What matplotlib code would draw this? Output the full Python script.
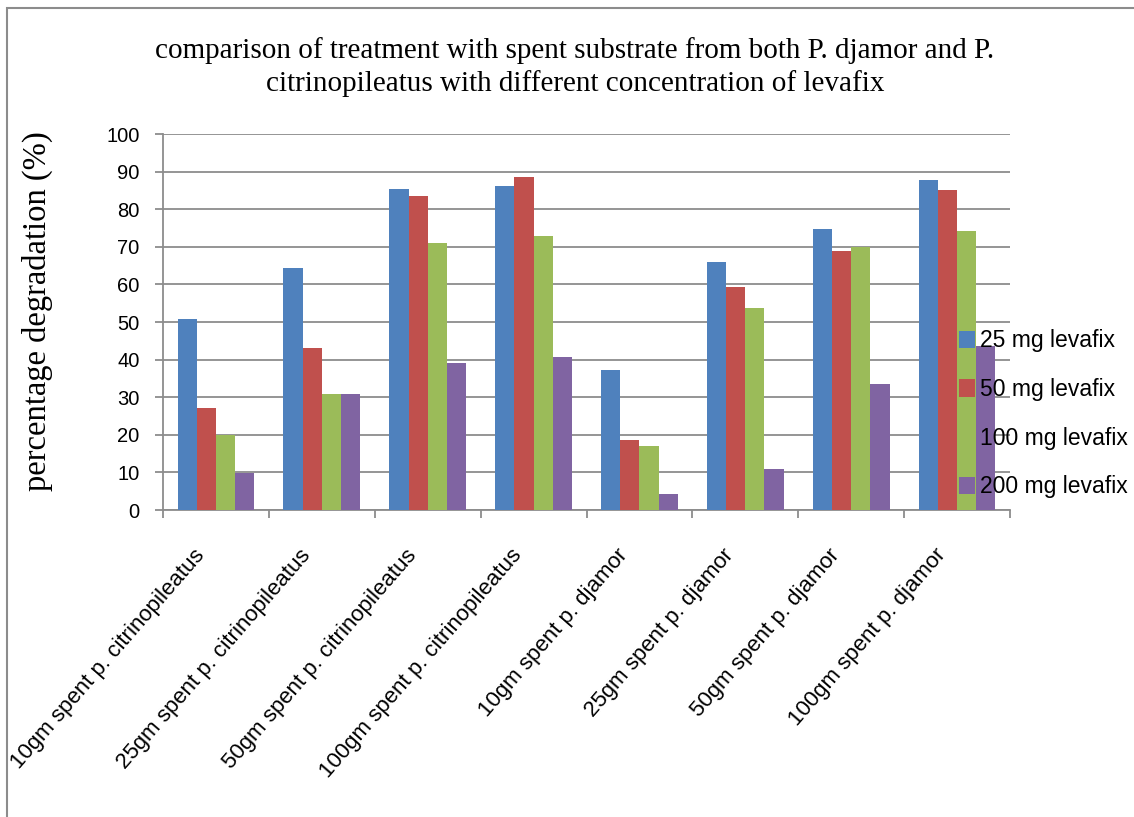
import numpy as np
import matplotlib
matplotlib.use("Agg")
import matplotlib.pyplot as plt
from matplotlib.patches import Rectangle

categories = ["10gm spent p. citrinopileatus", "25gm spent p. citrinopileatus",
              "50gm spent p. citrinopileatus", "100gm spent p. citrinopileatus",
              "10gm spent p. djamor", "25gm spent p. djamor",
              "50gm spent p. djamor", "100gm spent p. djamor"]
series_names = ["25 mg levafix", "50 mg levafix", "100 mg levafix", "200 mg levafix"]
mg25 = [50.9, 64.3, 85.4, 86.1, 37.3, 65.9, 74.8, 87.8]
mg50 = [27.1, 43.1, 83.4, 88.5, 18.5, 59.2, 68.8, 85.1]
mg100 = [20.0, 30.8, 71.0, 72.8, 16.9, 53.7, 69.9, 74.2]
mg200 = [9.9, 30.8, 39.0, 40.7, 4.2, 11.0, 33.5, 43.5]
colors = ["#4F81BD", "#C0504D", "#9BBB59", "#8064A2"]

sans = ["Liberation Sans", "DejaVu Sans"]
serif = ["Liberation Serif", "DejaVu Serif"]

fig = plt.figure(figsize=(11.34, 8.17), dpi=100)
ax = fig.add_axes([163/1134, 1-510/817, (1010-163)/1134, (510-134)/817])

x = np.arange(len(categories))
w = 0.181
for i, (vals, name) in enumerate(zip([mg25, mg50, mg100, mg200], series_names)):
    ax.bar(x + (i - 1.5)*w, vals, width=w, color=colors[i], label=name, zorder=3)

ax.set_xlim(-0.5, len(categories) - 0.5)
ax.set_ylim(0, 100)
ax.set_yticks(np.arange(0, 101, 10))
ax.yaxis.grid(True, color="#8c8c8c", lw=1.3, zorder=0)
# category boundaries get the tick marks, labels sit on (invisible) minor ticks
ax.set_xticks(np.arange(-0.5, len(categories), 1.0))
ax.set_xticklabels([])
ax.set_xticks(x - 0.14, minor=True)
ax.set_xticklabels(categories, minor=True, rotation=49, ha="right", va="center",
                   rotation_mode="anchor", fontsize=16, family=sans)
ax.tick_params(axis="x", which="minor", length=0, pad=30)
ax.tick_params(axis="x", which="major", length=6, color="#8c8c8c", width=1.3)
ax.tick_params(axis="y", length=6, color="#8c8c8c", width=1.3, pad=11, labelsize=14.5)
for lab in ax.get_yticklabels():
    lab.set_family(sans)
for s in ["top", "right"]:
    ax.spines[s].set_visible(False)
for s in ["left", "bottom"]:
    ax.spines[s].set_color("#8c8c8c")
    ax.spines[s].set_linewidth(1.3)

ax.set_ylabel("percentage degradation (%)", family=serif, fontsize=23.5)
ax.yaxis.set_label_coords((53-163)/847, (510-311)/376)

fig.text(575/1134, 1-67/817,
         "comparison of treatment with spent substrate from both P. djamor and P.\n"
         "citrinopileatus with different concentration of levafix",
         ha="center", va="center", family=serif, fontsize=21, linespacing=1.32)

leg = fig.legend(loc="center left", bbox_to_anchor=(938/1134, 1-414/817), frameon=False,
                 prop={"family": sans, "size": 16.5},
                 handlelength=0.7, handleheight=0.8, handletextpad=0.25, labelspacing=1.12)

fig.patches.append(Rectangle((7/1134, -0.1), 1.2, 1-8/817+0.1, transform=fig.transFigure,
                             fill=False, edgecolor="#8c8c8c", lw=1.5))

fig.savefig("out.png", dpi=100)
